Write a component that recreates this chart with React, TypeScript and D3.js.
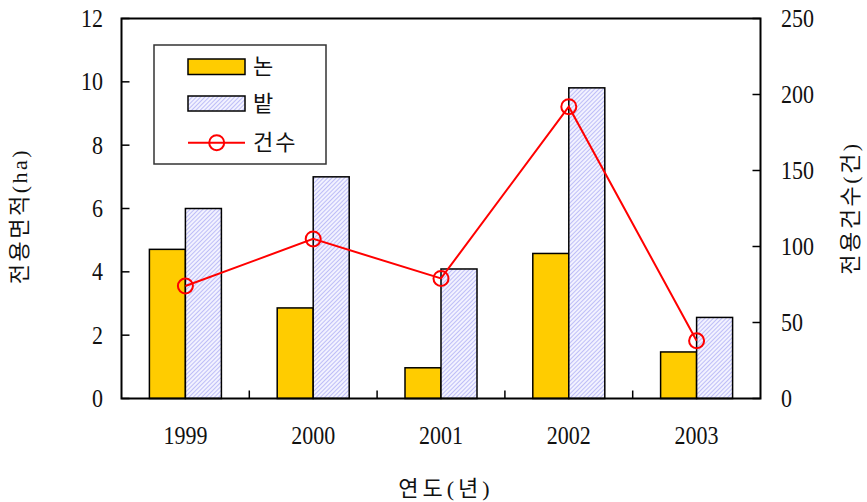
import React from "react";
import * as d3 from "d3";

// Year categories and series
const years = ["1999", "2000", "2001", "2002", "2003"];
const paddy = [4.71, 2.86, 0.97, 4.58, 1.47]; // 논 (ha)
const field = [6.0, 7.0, 4.09, 9.81, 2.56]; // 밭 (ha)
const counts = [74, 105, 79, 192, 38]; // 건수 (건)

const leftTicks = [0, 2, 4, 6, 8, 10, 12];
const rightTicks = [0, 50, 100, 150, 200, 250];

const W = 867;
const H = 502;
const plot = { left: 121.5, right: 760.5, top: 18.5, bottom: 398.5 };

const serif = "'Liberation Serif', 'Noto Sans CJK KR', serif";
const FS = 22;
const DIGIT_STRETCH = 1.12;

// Tall serif digits, centred vertically on (x, y)
function Num({
  x,
  y,
  anchor,
  children,
}: {
  x: number;
  y: number;
  anchor: "start" | "middle" | "end";
  children: React.ReactNode;
}) {
  return (
    <text
      transform={`translate(${x},${y}) scale(1,${DIGIT_STRETCH})`}
      dy="0.35em"
      textAnchor={anchor}
      fontFamily={serif}
      fontSize={FS}
      fill="#111"
    >
      {children}
    </text>
  );
}

export default function App() {
  const x = d3
    .scaleBand<string>()
    .domain(years)
    .range([plot.left, plot.right])
    .padding(0);
  const yL = d3.scaleLinear().domain([0, 12]).range([plot.bottom, plot.top]);
  const yR = d3.scaleLinear().domain([0, 250]).range([plot.bottom, plot.top]);
  const barW = 36;
  const cx = (y: string) => (x(y) as number) + x.bandwidth() / 2;

  const line = d3
    .line<number>()
    .x((_, i) => cx(years[i]))
    .y((d) => yR(d));

  const boundaries = years.slice(1).map((y) => x(y) as number);

  return (
    <svg
      width={W}
      height={H}
      style={{ position: "absolute", left: 0, top: 0, background: "#fff" }}
    >
      <defs>
        <pattern
          id="hatch"
          patternUnits="userSpaceOnUse"
          width={3}
          height={3}
          patternTransform="rotate(45)"
        >
          <rect width={3} height={3} fill="#f2f2ff" />
          <line x1={0} y1={0} x2={0} y2={3} stroke="#9c9cf2" strokeWidth={1.2} />
        </pattern>
      </defs>

      {/* bars */}
      {years.map((y, i) => (
        <g key={y}>
          <rect
            x={cx(y) - barW}
            y={yL(paddy[i])}
            width={barW}
            height={plot.bottom - yL(paddy[i])}
            fill="#ffcc00"
            stroke="#000"
            strokeWidth={1.5}
          />
          <rect
            x={cx(y)}
            y={yL(field[i])}
            width={barW}
            height={plot.bottom - yL(field[i])}
            fill="url(#hatch)"
            stroke="#000"
            strokeWidth={1.5}
          />
        </g>
      ))}

      {/* frame */}
      <rect
        x={plot.left}
        y={plot.top}
        width={plot.right - plot.left}
        height={plot.bottom - plot.top}
        fill="none"
        stroke="#000"
        strokeWidth={2}
      />

      {/* left ticks */}
      {leftTicks.map((t) => (
        <g key={"l" + t}>
          <line
            x1={plot.left}
            x2={plot.left + 8}
            y1={yL(t)}
            y2={yL(t)}
            stroke="#000"
            strokeWidth={1.5}
          />
          <Num x={103} y={yL(t)} anchor="end">
            {t}
          </Num>
        </g>
      ))}

      {/* right ticks */}
      {rightTicks.map((t) => (
        <g key={"r" + t}>
          <line
            x1={plot.right - 8}
            x2={plot.right}
            y1={yR(t)}
            y2={yR(t)}
            stroke="#000"
            strokeWidth={1.5}
          />
          <Num x={781} y={yR(t)} anchor="start">
            {t}
          </Num>
        </g>
      ))}

      {/* bottom ticks at category boundaries */}
      {boundaries.map((b, i) => (
        <line
          key={"b" + i}
          x1={b}
          x2={b}
          y1={plot.bottom}
          y2={plot.bottom - 8}
          stroke="#000"
          strokeWidth={1.5}
        />
      ))}

      {/* year labels */}
      {years.map((y) => (
        <Num key={"x" + y} x={cx(y)} y={435} anchor="middle">
          {y}
        </Num>
      ))}

      {/* count line */}
      <path d={line(counts) || ""} fill="none" stroke="#ff0000" strokeWidth={2} />
      {counts.map((c, i) => (
        <circle
          key={"c" + i}
          cx={cx(years[i])}
          cy={yR(c)}
          r={7.5}
          fill="none"
          stroke="#ff0000"
          strokeWidth={2}
        />
      ))}

      {/* legend */}
      <g>
        <rect
          x={154}
          y={45}
          width={172}
          height={119}
          fill="#fff"
          stroke="#333"
          strokeWidth={1.5}
        />
        <rect
          x={188}
          y={59}
          width={57}
          height={15.5}
          fill="#ffcc00"
          stroke="#000"
          strokeWidth={1.5}
        />
        <text x={253} y={66.5} dy="0.35em" fontFamily={serif} fontSize={FS} fill="#111">
          논
        </text>
        <rect
          x={188}
          y={96}
          width={57}
          height={15}
          fill="url(#hatch)"
          stroke="#000"
          strokeWidth={1.5}
        />
        <text x={253} y={103.5} dy="0.35em" fontFamily={serif} fontSize={FS} fill="#111">
          밭
        </text>
        <line x1={188} x2={245} y1={142.7} y2={142.7} stroke="#ff0000" strokeWidth={2} />
        <circle cx={216.7} cy={142.7} r={7.5} fill="none" stroke="#ff0000" strokeWidth={2} />
        <text
          x={253}
          y={142.7}
          dy="0.35em"
          fontFamily={serif}
          fontSize={FS}
          letterSpacing={2}
          fill="#111"
        >
          건수
        </text>
      </g>

      {/* axis titles */}
      <text
        transform={`translate(19,${216}) rotate(-90)`}
        textAnchor="middle"
        dy="0.35em"
        fontFamily={serif}
        fontSize={FS}
        letterSpacing={2.5}
        fill="#111"
      >
        전용면적(ha)
      </text>
      <text
        transform={`translate(850,${208}) rotate(-90)`}
        textAnchor="middle"
        dy="0.35em"
        fontFamily={serif}
        fontSize={FS}
        letterSpacing={2.5}
        fill="#111"
      >
        전용건수(건)
      </text>
      <text
        x={446}
        y={488}
        dy="0.35em"
        textAnchor="middle"
        fontFamily={serif}
        fontSize={FS}
        letterSpacing={4}
        fill="#111"
      >
        연도(년)
      </text>
    </svg>
  );
}
